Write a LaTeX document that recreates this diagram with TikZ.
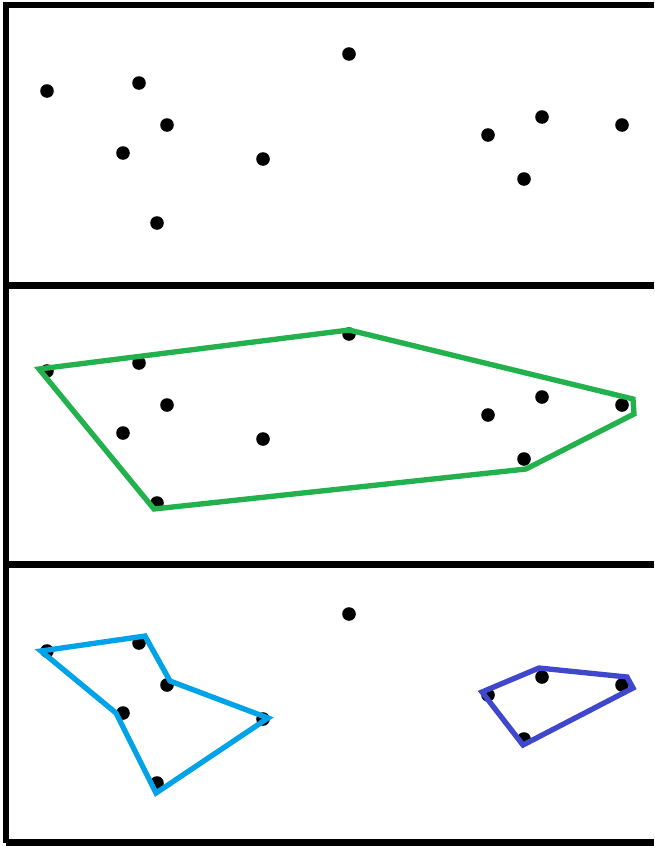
\documentclass[tikz,border=0pt]{standalone}
\begin{document}
\begin{tikzpicture}[x=0.75pt,y=-0.75pt,
  dot/.style={circle,fill=black,inner sep=0pt,minimum size=10.2pt},
  frame/.style={line width=5pt,draw=black},
  hullg/.style={draw=hgreen,line width=4pt,line join=miter},
  hullc/.style={draw=hcyan,line width=4pt,line join=miter},
  hullb/.style={draw=hblue,line width=4pt,line join=miter}]
\definecolor{hgreen}{HTML}{22B14C}
\definecolor{hcyan}{HTML}{00A2E8}
\definecolor{hblue}{HTML}{3F48CC}
\useasboundingbox (0,0) rectangle (654,846);
\fill[white] (0,0) rectangle (654,846);
% frame
\coordinate (tl) at (5.5,5);
\coordinate (tr) at (654,5);
\coordinate (bl) at (5.5,842.5);
\coordinate (br) at (654,842.5);
\coordinate (s1l) at (5.5,285.5);
\coordinate (s1r) at (654,285.5);
\coordinate (s2l) at (5.5,564.5);
\coordinate (s2r) at (654,564.5);
\draw[frame,line width=4.5pt] (tr) -- (tl) -- (bl);
\draw[frame] (bl) -- (br);
\draw[frame] (s1l) -- (s1r);
\draw[frame] (s2l) -- (s2r);
% panel 1
\foreach \n/\x/\y in {a/47/91,b/139/83,c/167/125,d/123/153,e/157/223,f/263/159,g/349/54,h/488/135,i/542/117,j/622/125,k/524/179}{
  \node[dot] (p1\n) at (\x,\y) {};
}
% panel 2
\foreach \n/\x/\y in {a/47/91,b/139/83,c/167/125,d/123/153,e/157/223,f/263/159,g/349/54,h/488/135,i/542/117,j/622/125,k/524/179}{
  \node[dot] (p2\n) at (\x,\y+280) {};
}
% panel 3
\foreach \n/\x/\y in {a/47/91,b/139/83,c/167/125,d/123/153,e/157/223,f/263/159,g/349/54,h/488/135,i/542/117,j/622/125,k/524/179}{
  \node[dot] (p3\n) at (\x,\y+560) {};
}
% green hull
\coordinate (g1) at (39,369);
\coordinate (g2) at (349,330);
\coordinate (g3) at (633,399);
\coordinate (g4) at (634,414);
\coordinate (g5) at (526,469);
\coordinate (g6) at (154,509);
\draw[hullg] (g1) -- (g2) -- (g3) -- (g4) -- (g5) -- (g6) -- cycle;
% cyan hull
\coordinate (c1) at (41,651);
\coordinate (c2) at (145,636);
\coordinate (c3) at (170,681);
\coordinate (c4) at (268,718);
\coordinate (c5) at (156,793);
\coordinate (c6) at (116,713);
\draw[hullc] (c1) -- (c2) -- (c3) -- (c4) -- (c5) -- (c6) -- cycle;
% blue hull
\coordinate (b1) at (482,692);
\coordinate (b2) at (539,668);
\coordinate (b3) at (627,677);
\coordinate (b4) at (633,688);
\coordinate (b5) at (523,745);
\draw[hullb] (b1) -- (b2) -- (b3) -- (b4) -- (b5) -- cycle;
\end{tikzpicture}
\end{document}
